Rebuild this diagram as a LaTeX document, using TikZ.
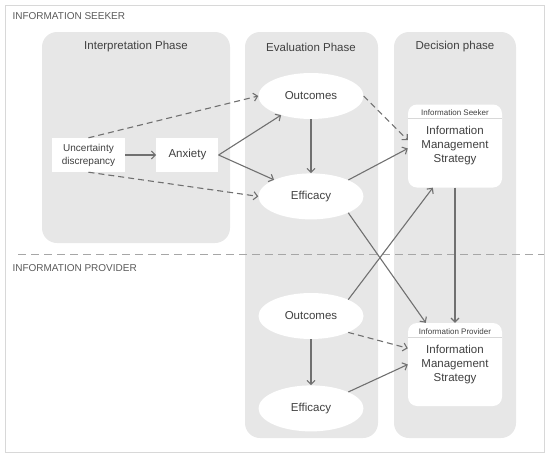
\documentclass[tikz,border=0pt]{standalone}
\usepackage{fontspec}
\setmainfont{Liberation Sans}
\usetikzlibrary{positioning,arrows.meta,shapes.geometric}
\definecolor{panel}{HTML}{E7E7E7}
\definecolor{ink}{HTML}{404040}
\definecolor{inklight}{HTML}{5A5A5A}
\definecolor{arrowgray}{HTML}{707070}
\definecolor{framegray}{HTML}{D8D8D8}
\definecolor{dashgray}{HTML}{A6A6A6}

\begin{document}
\begin{tikzpicture}[x = 1pt, y = -1pt, node distance = 31pt]
      \tikzset{PhaseStyle/.style = {fill = panel, rounded corners = 15pt},
          TitleStyle/.style = {text = ink, font = \fontsize{11.5}{14}\selectfont},
          SideStyle/.style  = {anchor = west, text = inklight, font = \fontsize{10}{12}\selectfont},
          OvalStyle/.style  = {ellipse, fill = white, minimum width = 105pt,
              minimum height = 46pt, inner sep = 0pt, text = ink,
              font = \fontsize{11.5}{14}\selectfont},
          BoxStyle/.style   = {fill = white, minimum height = 34pt, inner sep = 0pt,
              align = center, text = ink},
          StratStyle/.style = {fill = white, rounded corners = 9pt, minimum width = 94pt,
              minimum height = 83pt, align = center, text = ink,
              font = \fontsize{11.5}{14}\selectfont},
          HeadStyle/.style  = {text = ink, inner sep = 0pt, font = \fontsize{8}{10}\selectfont},
          EdgeStyle/.style  = {draw = arrowgray, line width = 1.1pt,
              -{Straight Barb[length = 4pt, width = 8pt]}},
          DashStyle/.style  = {EdgeStyle, dash pattern = on 6pt off 4pt}}
      \useasboundingbox (0,0) rectangle (550,461);
      \draw[framegray, line width = 1pt] (5,5) rectangle (544,452);
      % phases
      \fill[PhaseStyle] (42,32) rectangle (230,243);
      \fill[PhaseStyle] (245,32) rectangle (378,438);
      \fill[PhaseStyle] (394,32) rectangle (516,438);
      \node[TitleStyle] (TI) at (136,47) {Interpretation Phase};
      \node[TitleStyle] (TE) at (311,47) {Evaluation Phase};
      \node[TitleStyle] (TD) at (455,47) {Decision phase};
      \draw[dashgray, line width = 1pt, dash pattern = on 8pt off 5pt] (18,254) -- (544,254);
      \node[SideStyle] (Seek) at (9,16) {INFORMATION SEEKER};
      \node[SideStyle] (Prov) at (9,268) {INFORMATION PROVIDER};
      % nodes
      \node[BoxStyle, minimum width = 73pt, font = \fontsize{10}{13}\selectfont]
          (U) at (88.5,155) {Uncertainty\\discrepancy};
      \node[BoxStyle, minimum width = 62pt, font = \fontsize{11.5}{14}\selectfont,
          right = 31pt of U] (A) {Anxiety};
      \node[OvalStyle] (O1) at (311,96) {Outcomes};
      \node[OvalStyle, below = 54pt of O1] (E1) {Efficacy};
      \node[OvalStyle] (O2) at (311,316) {Outcomes};
      \node[OvalStyle, below = 46pt of O2] (E2) {Efficacy};
      \node[StratStyle] (S1) at (455,146) {Information\\Management\\Strategy};
      \node[StratStyle] (S2) at (455,364.5) {Information\\Management\\Strategy};
      \node[HeadStyle] (H1) at ([yshift = -8pt]S1.north) {Information Seeker};
      \node[HeadStyle] (H2) at ([yshift = -8.5pt]S2.north) {Information Provider};
      \draw[framegray] ([yshift = -14pt]S1.north west) -- ([yshift = -14pt]S1.north east);
      \draw[framegray] ([yshift = -14.5pt]S2.north west) -- ([yshift = -14.5pt]S2.north east);
      % edges
      \draw[EdgeStyle] (U) -- (A);
      \draw[DashStyle] (U.north) -- (O1.west);
      \draw[DashStyle] (U.south) -- (E1.west);
      \draw[EdgeStyle] (A.east) -- (O1);
      \draw[EdgeStyle] (A.east) -- (E1);
      \draw[EdgeStyle] (O1) -- (E1);
      \draw[DashStyle] (O1.east) -- (S1.173);
      \draw[EdgeStyle] (E1.north east) -- (S1.183);
      \draw[EdgeStyle] (E1.south east) -- (S2.125);
      \draw[EdgeStyle] (O2.north east) -- (S1.242);
      \draw[EdgeStyle] (S1) -- (S2);
      \draw[EdgeStyle] (O2) -- (E2);
      \draw[DashStyle] (O2.south east) -- (S2.161);
      \draw[EdgeStyle] (E2.north east) -- (S2.west);
    \end{tikzpicture}
\end{document}
